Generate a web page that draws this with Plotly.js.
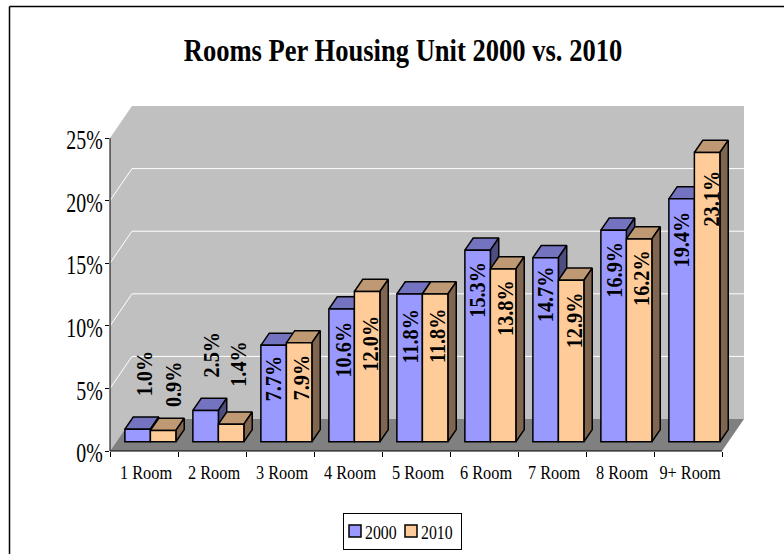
<!DOCTYPE html>
<html>
<head>
<meta charset="utf-8">
<script src="https://cdn.plot.ly/plotly-3.0.1.min.js"></script>
<style>html,body{margin:0;padding:0;background:#fff;overflow:hidden}#chart{width:784px;height:554px}</style>
</head>
<body>
<div id="chart"></div>
<script>
const categories = ["1 Room","2 Room","3 Room","4 Room","5 Room","6 Room","7 Room","8 Room","9+ Room"];
const values2000 = [1.0,2.5,7.7,10.6,11.8,15.3,14.7,16.9,19.4];
const values2010 = [0.9,1.4,7.9,12.0,11.8,13.8,12.9,16.2,23.1];
const yTicks = [0,5,10,15,20,25];
const yTickLabels = ["0%","5%","10%","15%","20%","25%"];

// label nudges relative to the bar top (px, + = down) and bar centre (px, + = right)
const nudgeY2000 = [-56,-56,33,41,42,40,37,40,41];
const nudgeY2010 = [-46,-60,35,52,42,39,40,39,46];
const nudgeX2000 = [7,6,0,1,1,0,0,0,0];
const nudgeX2010 = [10,7,3,3,3,3,3,3,4];

// oblique projection of the 3-D chart, in axis units
const UX = 68, UY = 12.52, N = 9, YMAX = 25;
const DX = 22 / UX, DY = 32 / UY;
const T0 = 0.29, T1 = 0.67, GAP = 0.125, BW = 0.375;
const XRANGE = N + DX, YRANGE = YMAX + DY;

const C = {
  wall:"#C0C0C0", floor:"#808080",
  s2000:{front:"#9999FF", top:"#7373BF", side:"#4D4D80"},
  s2010:{front:"#FFCC99", top:"#BF9973", side:"#806650"}
};
const poly = (pts,color,z,line) => ({
  type:"scatter", mode:"lines", x:pts.map(p=>p&&p[0]), y:pts.map(p=>p&&p[1]),
  fill:"toself", fillcolor:color, line: line||{width:0,color:color},
  hoverinfo:"skip", showlegend:false, zorder:z
});
const P = (x,v,t) => [x + t*DX, v + t*DY];

const traces = [];
traces.push(poly([P(0,0,1),P(N,0,1),P(N,YMAX,1),P(0,YMAX,1),P(0,0,1)],C.wall,0));
traces.push(poly([P(0,0,0),P(0,0,1),P(0,YMAX,1),P(0,YMAX,0),P(0,0,0)],C.wall,0));
traces.push(poly([P(0,0,0),P(N,0,0),P(N,0,1),P(0,0,1),P(0,0,0)],C.floor,0));
const gx=[], gy=[];
yTicks.slice(1,-1).forEach(v=>{
  [P(0,v,0),P(0,v,1),P(N,v,1)].forEach(p=>{gx.push(p[0]);gy.push(p[1]);});
  gx.push(null);gy.push(null);
});
traces.push({type:"scatter",mode:"lines",x:gx,y:gy,line:{color:"#FFFFFF",width:1},hoverinfo:"skip",showlegend:false,zorder:0});

function series(name, values, offset, col, z){
  const top=[], side=[];
  const edge={color:"#000000",width:1.5};
  values.forEach((v,i)=>{
    const a=i+offset, b=a+BW;
    top.push(P(a,v,T0),P(b,v,T0),P(b,v,T1),P(a,v,T1),P(a,v,T0),null);
    side.push(P(b,0,T0),P(b,0,T1),P(b,v,T1),P(b,v,T0),P(b,0,T0),null);
  });
  traces.push(poly(top,col.top,z,edge));
  traces.push(poly(side,col.side,z,edge));
  traces.push({type:"bar",name:name,x:values.map((v,i)=>i+offset+BW/2+T0*DX),y:values,
    base:values.map(()=>T0*DY),width:BW,marker:{color:col.front,line:{color:"#000000",width:1.5}},
    hoverinfo:"skip",zorder:z+1});
}
series("2000",values2000,GAP,C.s2000,1);
series("2010",values2010,GAP+BW,C.s2010,3);

function labels(values,offset,ny,nx){
  return values.map((v,i)=>({
    x:i+offset+BW/2+T0*DX, y:v+T0*DY, xref:"x", yref:"y",
    text:v.toFixed(1)+"%", showarrow:false, textangle:-90,
    xanchor:"center", yanchor:"middle", xshift:nx[i], yshift:-ny[i],
    font:{family:"Liberation Serif",size:22.5,color:"#000",weight:700}
  }));
}
const annos = labels(values2000,GAP,nudgeY2000,nudgeX2000).concat(labels(values2010,GAP+BW,nudgeY2010,nudgeX2010));

const px = x => (x-110)/634, py = y => (451-y)/345;
const layout = {
  width:784, height:554, paper_bgcolor:"#FFFFFF", plot_bgcolor:"rgba(0,0,0,0)",
  margin:{l:110,r:40,t:106,b:103,pad:0,autoexpand:false}, barmode:"overlay",
  font:{family:"Liberation Serif",color:"#000"},
  title:{text:"Rooms Per Housing Unit 2000 vs. 2010",x:403/784,xanchor:"center",y:1-49.5/554,yanchor:"middle",
    font:{family:"Liberation Serif",size:32,color:"#000",weight:700}},
  xaxis:{type:"linear",range:[0,XRANGE],tickmode:"array",tickvals:categories.map((c,i)=>i+0.5+0.03),ticktext:categories,
    ticks:"outside",tickcolor:"rgba(0,0,0,0)",ticklen:5,tickfont:{size:18.5,family:"Liberation Serif"},
    minor:{tickmode:"array",tickvals:categories.map((c,i)=>i).concat([N]),ticks:"outside",ticklen:5,tickcolor:"#000",tickwidth:1},
    showgrid:false,zeroline:false,showline:false,fixedrange:true},
  yaxis:{range:[0,YRANGE],tickmode:"array",tickvals:yTicks,ticktext:yTickLabels,ticks:"outside",ticklen:4,tickcolor:"#000",
    ticklabelstandoff:-3,ticklabelshift:2,
    tickfont:{size:26.5,family:"Liberation Serif"},showgrid:false,zeroline:false,showline:false,fixedrange:true},
  legend:{orientation:"h",x:px(343),xanchor:"left",y:py(513),yanchor:"top",bgcolor:"#FFF",bordercolor:"#000",borderwidth:1,
    font:{size:19.5,family:"Liberation Serif"}},
  annotations:annos,
  shapes:[
    {type:"line",xref:"paper",yref:"paper",x0:px(9.5),x1:px(784),y0:py(6.5),y1:py(6.5),line:{color:"#000",width:1.5}},
    {type:"line",xref:"paper",yref:"paper",x0:px(9.5),x1:px(9.5),y0:py(6.5),y1:py(554),line:{color:"#000",width:1.5}},
    {type:"line",xref:"paper",yref:"paper",x0:0,x1:0,y0:0,y1:YMAX/YRANGE,line:{color:"#000",width:1}},
    {type:"line",xref:"paper",yref:"paper",x0:0,x1:N/XRANGE,y0:0,y1:0,line:{color:"#000",width:1}}
  ]
};

// the reference's type is tall and narrow: keep it as real text, squeezed along its baseline
function condense(sel,k){
  document.querySelectorAll(sel).forEach(t=>{
    const len=t.getComputedTextLength();
    t.setAttribute("textLength",(len*k).toFixed(1));
    t.setAttribute("lengthAdjust","spacingAndGlyphs");
  });
}
// tighten the native legend to the reference's compact box
function tightenLegend(){
  const bg=document.querySelector(".legend rect.bg"); if(!bg) return;
  bg.setAttribute("width",118); bg.setAttribute("height",36);
  document.querySelectorAll(".legend .traces").forEach((g,i)=>{
    g.setAttribute("transform","translate("+(i*56)+",18)");
    const tx=g.querySelector("text.legendtext"); if(tx) tx.setAttribute("x",22);
    g.querySelectorAll(".legendpoints path").forEach(p=>p.setAttribute("transform","translate(12,0)"));
  });
}
Plotly.newPlot("chart",traces,layout,{displayModeBar:false,staticPlot:true}).then(()=>{
  condense(".gtitle",0.83);
  condense(".ytick text",0.75);
  condense(".xtick text",0.88);
  condense(".annotation-text",0.9);
  condense(".legendtext",0.81);
  tightenLegend();
});
</script>
</body>
</html>
